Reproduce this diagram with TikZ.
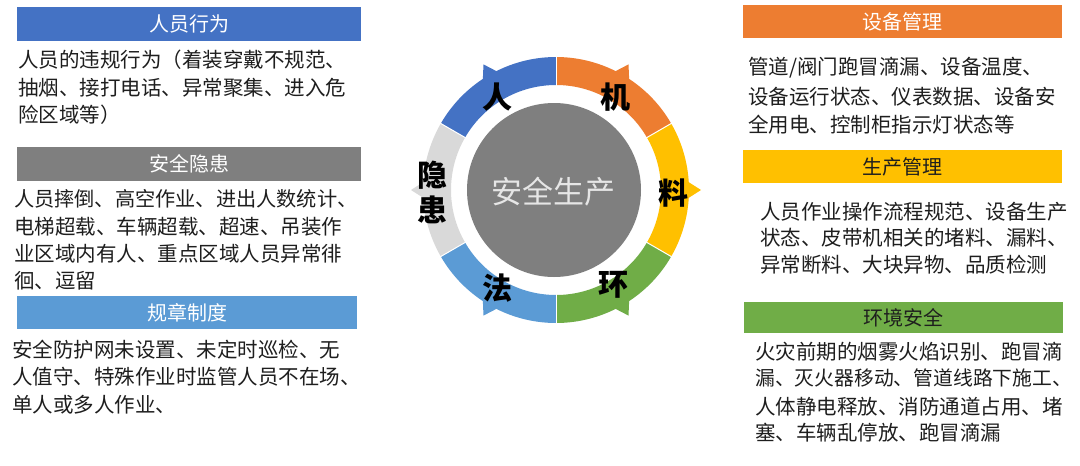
\documentclass[tikz,border=0pt]{standalone}
\usepackage{fontspec}
\setmainfont{Noto Sans CJK SC}
\definecolor{cblue}{HTML}{4472C4}
\definecolor{corange}{HTML}{ED7D31}
\definecolor{cyellow}{HTML}{FFC000}
\definecolor{cgreen}{HTML}{70AD47}
\definecolor{clblue}{HTML}{5B9BD5}
\definecolor{cgray}{HTML}{7F7F7F}
\definecolor{clgray}{HTML}{D9D9D9}
\definecolor{txt}{HTML}{1E1E1E}
\definecolor{ctext}{HTML}{E6E6E6}
\tikzset{
  hdr/.style={inner sep=0pt, font=\fontsize{20}{24}\selectfont, text=white},
  body/.style={anchor=west, inner sep=0pt, font=\fontsize{20.5}{24}\selectfont, text=txt},
  lab/.style={inner sep=0pt, font=\fontsize{30}{32}\selectfont\bfseries, text=black},
}
\begin{document}
\begin{tikzpicture}[x=1pt, y=-1pt]
\useasboundingbox (0,0) rectangle (1080,466);
\fill[white] (0,0) rectangle (1080,466);

% ---------- left headers ----------
\node[hdr, fill=cblue, minimum width=344pt, minimum height=34pt] (h1) at (189,24) {人员行为};
\node[hdr, fill=cgray, minimum width=344pt, minimum height=34pt] (h2) at (189,164) {安全隐患};
\node[hdr, fill=clblue, minimum width=340pt, minimum height=33pt] (h3) at (187,312.5) {规章制度};

% ---------- left texts ----------
\node[body] (a1) at (18,60) {人员的违规行为（着装穿戴不规范、};
\node[body] (a2) at (18,88) {抽烟、接打电话、异常聚集、进入危};
\node[body] (a3) at (18,115) {险区域等）};

\node[body, font=\fontsize{20.2}{24}\selectfont] (b1) at (14,199) {人员摔倒、高空作业、进出人数统计、};
\node[body] (b2) at (14,227) {电梯超载、车辆超载、超速、吊装作};
\node[body] (b3) at (14,254) {业区域内有人、重点区域人员异常徘};
\node[body] (b4) at (14,281) {徊、逗留};

\node[body] (c1) at (12,350) {安全防护网未设置、未定时巡检、无};
\node[body] (c2) at (12,377) {人值守、特殊作业时监管人员不在场、};
\node[body] (c3) at (12,405) {单人或多人作业、};

% ---------- right headers ----------
\node[hdr, fill=corange, minimum width=319pt, minimum height=33pt] (h4) at (902.5,21.5) {设备管理};
\node[hdr, fill=cyellow, text=txt, minimum width=319pt, minimum height=33pt] (h5) at (902.5,166.5) {生产管理};
\node[hdr, fill=cgreen, text=txt, minimum width=319pt, minimum height=31pt] (h6) at (903.5,317.5) {环境安全};

% ---------- right texts ----------
\node[body] (d1) at (748,68) {管道/阀门跑冒滴漏、设备温度、};
\node[body] (d2) at (748,97) {设备运行状态、仪表数据、设备安};
\node[body] (d3) at (748,125) {全用电、控制柜指示灯状态等};

\node[body] (e1) at (760,212) {人员作业操作流程规范、设备生产};
\node[body] (e2) at (760,238) {状态、皮带机相关的堵料、漏料、};
\node[body] (e3) at (760,265) {异常断料、大块异物、品质检测};

\node[body] (f1) at (755,352) {火灾前期的烟雾火焰识别、跑冒滴};
\node[body, font=\fontsize{19.8}{24}\selectfont] (f2) at (755,378) {漏、灭火器移动、管道线路下施工、};
\node[body] (f3) at (755,407) {人体静电释放、消防通道占用、堵};
\node[body] (f4) at (755,433) {塞、车辆乱停放、跑冒滴漏};

% ---------- ring ----------
\begin{scope}[shift={(556,190)}]
  \foreach \m/\c in {120/cblue, 60/corange, 0/cyellow, -60/cgreen, -120/clblue, 180/clgray}{
    \fill[\c] (\m-30:133pt) arc[start angle=\m-30, end angle=\m+30, radius=133pt]
      -- (\m+30:105pt) arc[start angle=\m+30, end angle=\m-30, radius=105pt] -- cycle;
    \fill[\c] (\m-4:131pt) -- (\m:145pt) -- (\m+4:131pt) -- cycle;
  }
  \foreach \a in {30,90,150,210,270,330}{
    \draw[white, line width=1pt] (\a:104pt) -- (\a:134pt);
  }
\end{scope}

\node[circle, fill=cgray, minimum size=174pt, inner sep=0pt] (core) at (554,190) {};
\node[inner sep=0pt, font=\fontsize{31}{34}\selectfont, text=ctext] (coretext) at (553,192) {安全生产};

\node[lab] (lren) at (497,97) {人};
\node[lab] (lji) at (615,97) {机};
\node[lab] (lliao) at (673,193) {料};
\node[lab] (lhuan) at (613,285) {环};
\node[lab] (lfa) at (497,288) {法};
\node[lab] (lyin) at (432,175) {隐};
\node[lab] (lhuan2) at (432,210) {患};
\end{tikzpicture}
\end{document}
